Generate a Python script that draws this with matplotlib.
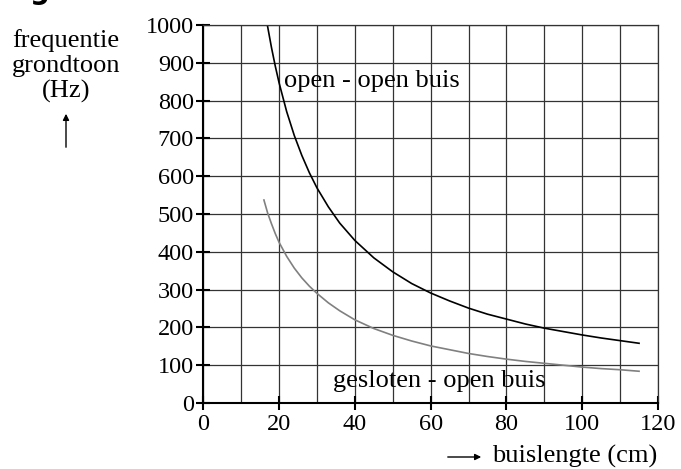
import numpy as np
import matplotlib.pyplot as plt

# Data
lengte_open = [16.9, 18, 19, 20, 22, 24, 26, 28, 30, 33, 36, 40, 45, 50, 55, 60,
               65, 70, 75, 80, 85, 90, 95, 100, 105, 110, 115]
freq_open = [1000, 940, 891, 847, 771, 708, 655, 609, 569, 519, 476, 430, 384, 347,
             316, 291, 270, 251, 235, 222, 209, 198, 189, 180, 172, 165, 158]

lengte_gesloten = [16, 17, 18, 19, 20, 22, 24, 26, 28, 30, 33, 36, 40, 45, 50, 55,
                   60, 65, 70, 75, 80, 85, 90, 95, 100, 105, 110, 115]
freq_gesloten = [537, 502, 474, 448, 425, 388, 357, 331, 309, 290, 265, 244, 220, 197,
                 179, 164, 151, 141, 131, 123, 116, 110, 105, 100, 95, 91, 88, 84]

xticks = [0, 20, 40, 60, 80, 100, 120]
yticks = [0, 100, 200, 300, 400, 500, 600, 700, 800, 900, 1000]

plt.rcParams['font.family'] = 'Liberation Serif'
plt.rcParams['font.size'] = 19

W, H = 681, 469
fig = plt.figure(figsize=(W / 100, H / 100), dpi=100)
ax = fig.add_axes([203.3 / W, 1 - 403 / H, (658 - 203.3) / W, (403 - 25) / H])

# Raster
ax.set_xticks(np.arange(0, 121, 10), minor=True)
ax.grid(which='both', color='#333333', lw=0.9)
ax.set_axisbelow(True)

ax.plot(lengte_open, freq_open, color='black', lw=1.2)
ax.plot(lengte_gesloten, freq_gesloten, color='#808080', lw=1.2)

ax.set_xlim(0, 120)
ax.set_ylim(0, 1000)
ax.set_xticks(xticks)
ax.set_yticks(yticks)
ax.tick_params(which='major', direction='inout', length=9.5, width=1.5, labelsize=17.5)
ax.tick_params(axis='x', pad=3)
ax.tick_params(axis='y', pad=2)
ax.tick_params(which='minor', length=0)
for s in ['top', 'right']:
    ax.spines[s].set_color('#333333')
    ax.spines[s].set_linewidth(0.9)
for s in ['left', 'bottom']:
    ax.spines[s].set_linewidth(1.5)

ax.text(21.3, 835, 'open - open buis', va='baseline')
ax.text(34.1, 42, 'gesloten - open buis', va='baseline')

# Aslabels
fig.text(66 / W, 1 - 47 / H, 'frequentie', ha='center', va='baseline')
fig.text(66 / W, 1 - 72 / H, 'grondtoon', ha='center', va='baseline')
fig.text(66 / W, 1 - 98 / H, '(Hz)', ha='center', va='baseline')
ax.annotate('', xy=(66, H - 111), xytext=(66, H - 150), xycoords='figure pixels',
            textcoords='figure pixels',
            arrowprops=dict(arrowstyle='-|>', color='black', lw=1, mutation_scale=9))

fig.text(657 / W, 1 - 463 / H, 'buislengte (cm)', ha='right', va='baseline')
ax.annotate('', xy=(484, H - 457), xytext=(445, H - 457), xycoords='figure pixels',
            textcoords='figure pixels',
            arrowprops=dict(arrowstyle='-|>', color='black', lw=1, mutation_scale=9))

# afgesneden kop bovenaan
fig.text(30 / W, 1 - 5 / H, 'g', fontsize=20, fontweight='bold',
         family='DejaVu Sans', va='bottom')

fig.savefig('out.png', dpi=100)
